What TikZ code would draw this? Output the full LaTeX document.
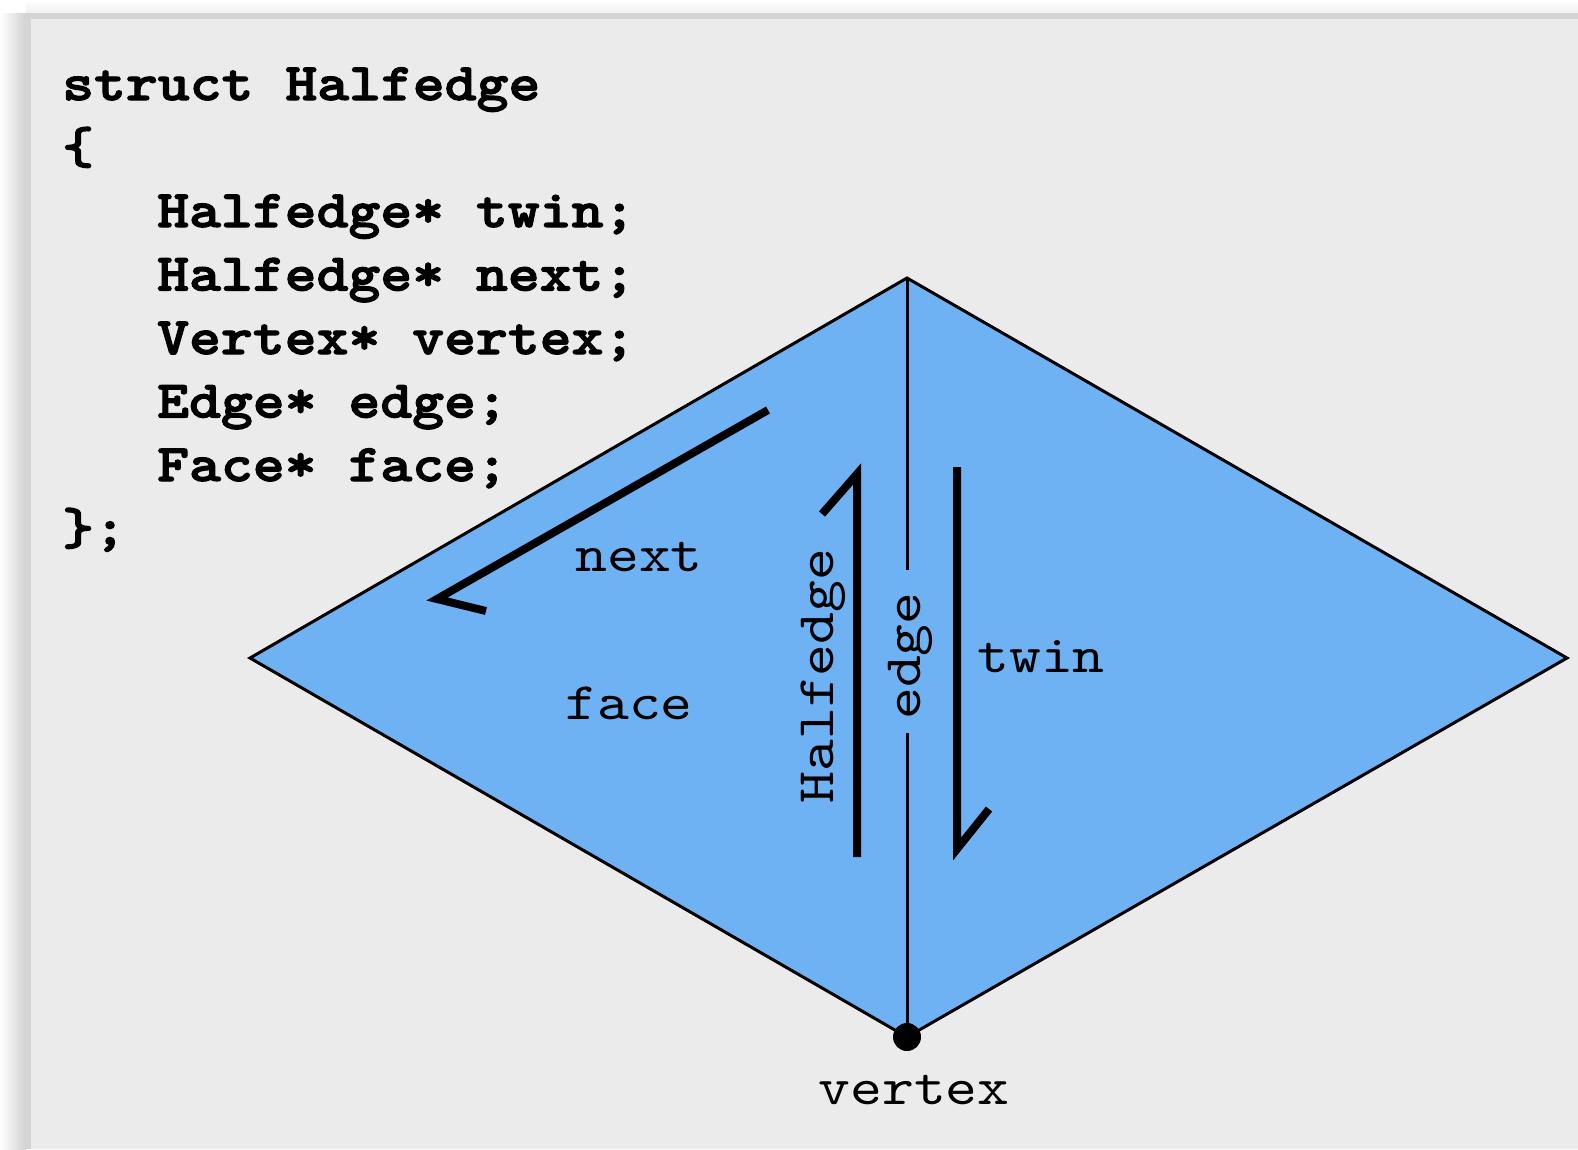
\documentclass[tikz,border=0pt]{standalone}
\usepackage{fontspec}
% typewriter faces, widened to Courier-like proportions
\newfontfamily\codefont{lmmonolt10-bold}[Extension=.otf, FakeStretch=1.15, FakeBold=2.2]
\newfontfamily\labelfont{lmmono10-regular}[Extension=.otf, FakeStretch=1.15]
\usetikzlibrary{shadings}
\definecolor{panelbg}{HTML}{EBEBEB}
\definecolor{panelrim}{HTML}{D4D4D4}
\definecolor{facefill}{HTML}{6FB2F4}
\tikzset{
  codeline/.style={anchor=base west, inner sep=0pt,
    font=\codefont\fontsize{52.8}{63.5}\selectfont},
  lbl/.style={anchor=base, inner sep=0pt,
    font=\labelfont\fontsize{52.8}{63.5}\selectfont},
  meshline/.style={line width=3pt, line join=miter},
  halfarrow/.style={line width=8pt, line join=miter, line cap=butt, miter limit=20},
}
\begin{document}
\begin{tikzpicture}[x=1pt,y=-1pt]
\useasboundingbox (0,0) rectangle (1578,1149);
% page and soft shadow along the panel's left and top edges
\fill[white] (0,0) rectangle (1578,1149);
\shade[left color=white, right color=black!18] (0,13) rectangle (26,1149);
\shade[top color=white, bottom color=black!6] (26,0) rectangle (1578,13);
% panel with its rim
\fill[panelrim] (26,13) rectangle (1578,1149);
\fill[panelbg] (31,19) rectangle (1578,1149);

% struct declaration
\node[codeline] (c1) at (62,100)   {struct Halfedge};
\node[codeline] (c2) at (62,163.5) {\{};
\node[codeline] (c3) at (157,227)  {Halfedge* twin;};
\node[codeline] (c4) at (157,290.5){Halfedge* next;};
\node[codeline] (c5) at (157,354)  {Vertex* vertex;};
\node[codeline] (c6) at (157,417.5){Edge* edge;};
\node[codeline] (c7) at (157,481)  {Face* face;};
\node[codeline] (c8) at (62,544.5) {\};};

% the two faces sharing an edge
\coordinate (T) at (907,278);
\coordinate (R) at (1567,658);
\coordinate (B) at (907,1037);
\coordinate (L) at (250,658);
\draw[meshline, fill=facefill] (T) -- (R) -- (B) -- (L) -- cycle;

% shared edge, broken around its label
\coordinate (gapTop) at (907,570);
\coordinate (gapBot) at (907,733);
\draw[meshline] (T) -- (gapTop);
\draw[meshline] (gapBot) -- (B);
\node[lbl, rotate=90] (edgeLbl) at (920,656) {edge};

% vertex
\node[circle, fill=black, inner sep=0pt, minimum size=28pt] (vtx) at (B) {};
\node[lbl] (vtxLbl) at (914,1104) {vertex};

% halfedge and its twin
\coordinate (heTail) at (857,857);
\coordinate (heHead) at (857,474);
\coordinate (heBarb) at (822,514);
\draw[halfarrow] (heTail) -- (heHead) -- (heBarb);
\node[lbl, rotate=90] (heLbl) at (833,676) {Halfedge};

\coordinate (twTail) at (957,467);
\coordinate (twHead) at (957,849);
\coordinate (twBarb) at (989,809);
\draw[halfarrow] (twTail) -- (twHead) -- (twBarb);
\node[lbl] (twLbl) at (1041,672) {twin};

% next halfedge around the face
\coordinate (nxTail) at (768,410);
\coordinate (nxHead) at (437,599);
\coordinate (nxBarb) at (486,611);
\draw[halfarrow] (nxTail) -- (nxHead) -- (nxBarb);
\node[lbl] (nxLbl) at (639,571) {next};

\node[lbl] (faceLbl) at (629,719) {face};
\end{tikzpicture}
\end{document}
